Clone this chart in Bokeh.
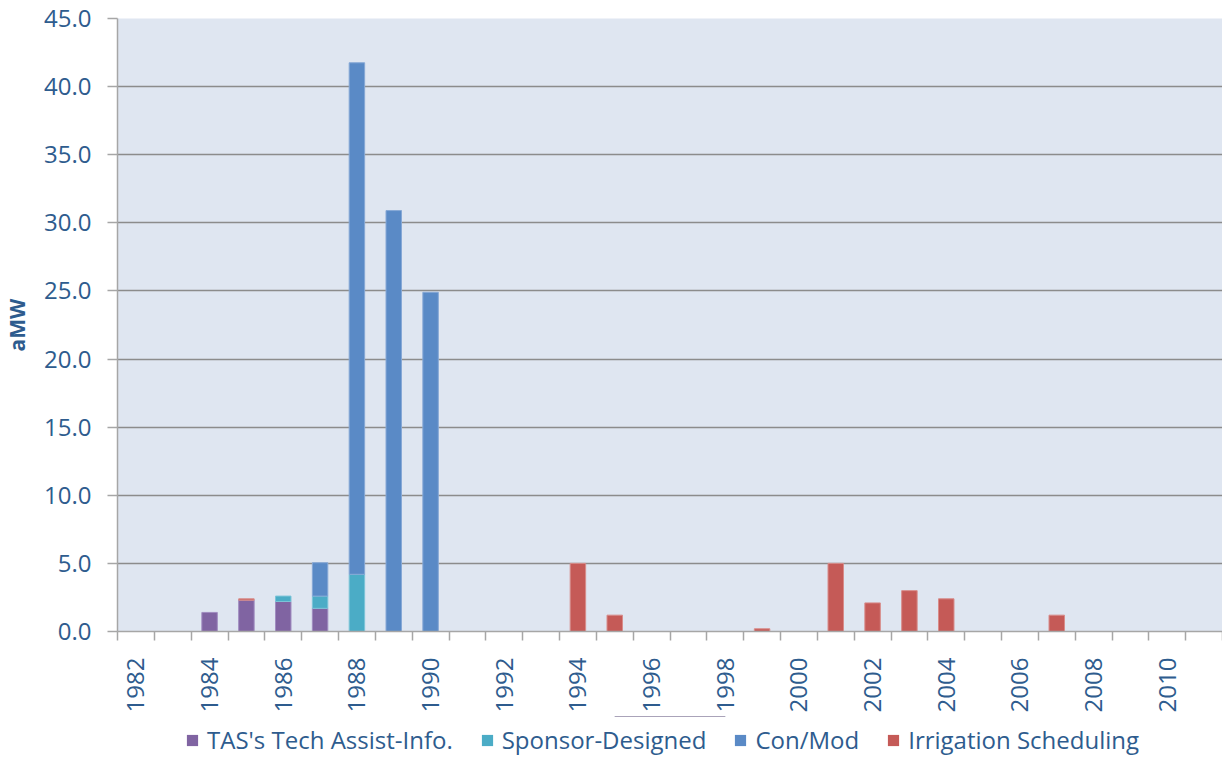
import numpy as np
from bokeh.plotting import figure
from bokeh.layouts import column
from bokeh.models import FixedTicker, Legend, LegendItem, ColumnDataSource, NumeralTickFormatter
from bokeh.embed import file_html
from bokeh.resources import INLINE

years = list(range(1982, 2012))
tas = {1984: 1.4, 1985: 2.3, 1986: 2.2, 1987: 1.7}
sponsor = {1986: 0.4, 1987: 0.9, 1988: 4.2}
conmod = {1987: 2.45, 1988: 37.55, 1989: 30.9, 1990: 24.9}
irrigation = {1985: 0.1, 1994: 5.0, 1995: 1.2, 1999: 0.2, 2001: 5.0, 2002: 2.1,
              2003: 3.0, 2004: 2.4, 2007: 1.2}
series_names = ["TAS's Tech Assist-Info.", "Sponsor-Designed", "Con/Mod", "Irrigation Scheduling"]
y_ticks = [0, 5, 10, 15, 20, 25, 30, 35, 40, 45]
x_label_years = [y for y in years if y % 2 == 0]

colors = ["#8064A2", "#4BACC6", "#5A8AC6", "#C55A57"]
outlines = ["#A08CC0", "#7CC4D8", "#86A8D6", "#D88C8A"]
text_color = "#2E5C8E"
FONT = "Open Sans"

p = figure(width=1222, height=716, output_backend="svg", toolbar_location=None,
           x_range=(1981.5, 2011.5), y_range=(0, 45),
           min_border_left=110, min_border_top=18, min_border_right=0, min_border_bottom=85)
p.background_fill_color = "#DFE6F1"
p.border_fill_color = "white"
p.outline_line_color = None

base = {y: 0.0 for y in years}
renderers = []
for series, col, oc in zip([tas, sponsor, conmod, irrigation], colors, outlines):
    xs, bots, tops = [], [], []
    for y in years:
        v = series.get(y, 0.0)
        if v > 0:
            xs.append(y)
            bots.append(base[y])
            tops.append(base[y] + v)
            base[y] += v
    src = ColumnDataSource(dict(x=xs, bottom=bots, top=tops))
    r = p.vbar(x="x", bottom="bottom", top="top", width=0.42, source=src,
               fill_color=col, line_color=oc, line_width=1)
    renderers.append(r)

p.xgrid.grid_line_color = None
p.ygrid.grid_line_color = "#8C8C8C"
p.ygrid.grid_line_width = 1.5
p.ygrid.ticker = FixedTicker(ticks=y_ticks)

p.yaxis.ticker = FixedTicker(ticks=y_ticks)
p.yaxis.formatter = NumeralTickFormatter(format="0.0")
p.yaxis.axis_label = "aMW"
p.yaxis.axis_label_text_font = FONT
p.yaxis.axis_label_text_font_style = "bold"
p.yaxis.axis_label_text_font_size = "21px"
p.yaxis.axis_label_text_color = text_color
p.yaxis.axis_label_standoff = 10
p.yaxis.major_label_text_font = FONT
p.yaxis.major_label_text_font_size = "24px"
p.yaxis.major_label_text_color = text_color
p.yaxis.major_label_standoff = 16
p.yaxis.axis_line_color = "#A6A6A6"
p.yaxis.axis_line_width = 1.5
p.yaxis.major_tick_line_color = "#A6A6A6"
p.yaxis.major_tick_line_width = 1.5
p.yaxis.major_tick_out = 10
p.yaxis.major_tick_in = 0
p.yaxis.minor_tick_line_color = None

p.xaxis.ticker = FixedTicker(ticks=x_label_years,
                             minor_ticks=[y + 0.5 for y in range(1981, 2012)])
p.xaxis.major_label_orientation = np.pi / 2
p.xaxis.major_label_text_font = FONT
p.xaxis.major_label_text_font_size = "24px"
p.xaxis.major_label_text_color = text_color
p.xaxis.axis_line_color = "#A6A6A6"
p.xaxis.axis_line_width = 1.5
p.xaxis.major_tick_line_color = None
p.xaxis.major_tick_out = 0
p.xaxis.major_tick_in = 0
p.xaxis.minor_tick_line_color = "#A6A6A6"
p.xaxis.minor_tick_line_width = 1.5
p.xaxis.minor_tick_out = 9
p.xaxis.minor_tick_in = 0
p.xaxis.major_label_standoff = 17

# legend strip below the chart (placeholder glyphs sit far above its visible range)
lg = figure(width=1222, height=40, output_backend="svg", toolbar_location=None,
            x_range=(0, 1), y_range=(0, 1), min_border=0,
            x_axis_location=None, y_axis_location=None)
lg.outline_line_color = None
lg.xgrid.grid_line_color = None
lg.ygrid.grid_line_color = None
lg_renderers = []
for col in colors:
    dummy = ColumnDataSource(dict(x=[0.5], bottom=[100.0], top=[101.0]))
    lg_renderers.append(lg.vbar(x="x", bottom="bottom", top="top", width=0.1,
                                source=dummy, fill_color=col, line_color=None))
items = [LegendItem(label=n, renderers=[r]) for n, r in zip(series_names, lg_renderers)]
legend = Legend(items=items, orientation="horizontal", location=(68, 0),
                label_text_font=FONT, label_text_font_size="24px",
                label_text_color=text_color, glyph_width=14, glyph_height=14,
                spacing=27, label_standoff=8, border_line_color=None,
                background_fill_alpha=0, margin=0, padding=0)
lg.add_layout(legend, "center")

layout = column(p, lg, spacing=0)
open("out.html", "w").write(file_html(layout, INLINE))
